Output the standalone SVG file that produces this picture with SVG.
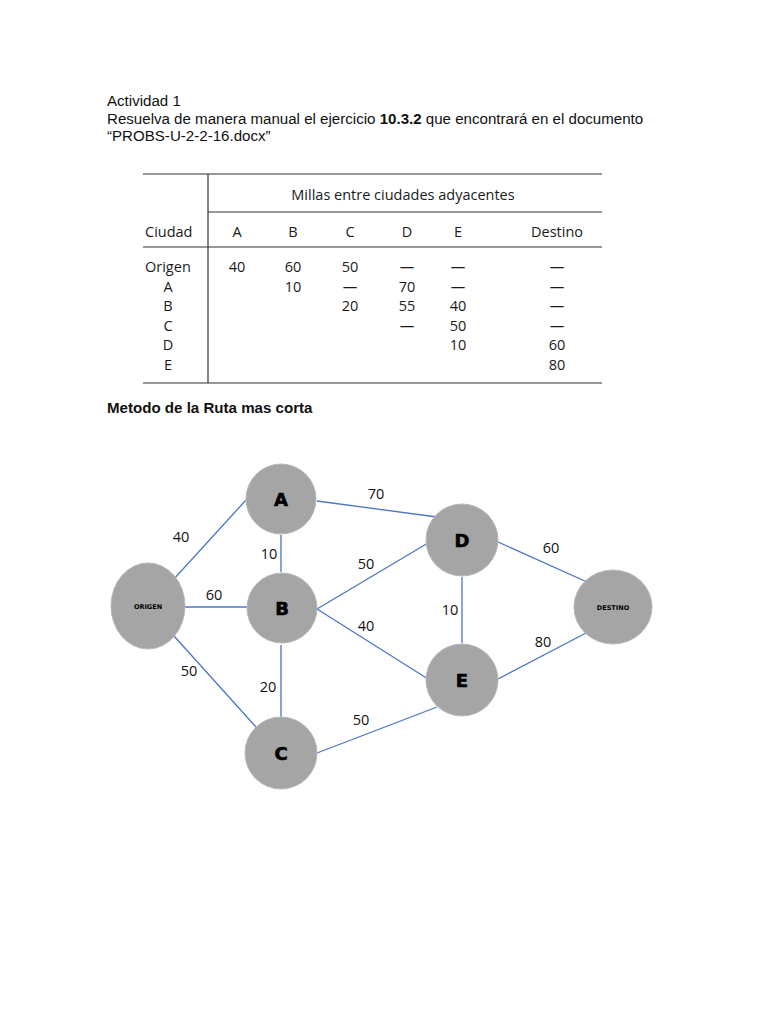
<svg xmlns="http://www.w3.org/2000/svg" width="768" height="1024" viewBox="0 0 768 1024">
<style>
.doc{font-family:"Liberation Sans",Arial,sans-serif;font-size:15.1px;fill:#111}
.tb{font-family:"Open Sans","Noto Sans",sans-serif;font-size:14.5px;fill:#1a1a1a}
.tm{text-anchor:middle}
.rule{stroke:#333;stroke-width:1.2}
.node{fill:#a5a5a5;stroke:#b8b8b8;stroke-width:1}
.nl{font-family:"DejaVu Sans",sans-serif;font-weight:900;font-size:18px;fill:#000;text-anchor:middle;stroke:#000;stroke-width:0.6}
.ns{font-family:"DejaVu Sans",sans-serif;font-weight:bold;font-size:6.5px;fill:#000;text-anchor:middle}
.edge{stroke:#4a76c6;stroke-width:1.3;fill:none}
.el{font-family:"Open Sans","Noto Sans",sans-serif;font-size:14.5px;fill:#111;text-anchor:middle}
</style>
<rect width="768" height="1024" fill="#fff"/>
<text class="doc" x="107" y="106">Actividad 1</text>
<text class="doc" x="107" y="124">Resuelva de manera manual el ejercicio <tspan font-weight="bold">10.3.2</tspan> que encontrará en el documento</text>
<text class="doc" x="107" y="141" fill="#444">“PROBS-U-2-2-16.docx”</text>

<g id="table">
<line class="rule" x1="143" y1="174" x2="602" y2="174" stroke-width="2.2"/>
<line class="rule" x1="208" y1="174" x2="208" y2="383" stroke-width="1"/>
<line class="rule" x1="208" y1="212" x2="602" y2="212"/>
<line class="rule" x1="143" y1="247" x2="602" y2="247"/>
<line class="rule" x1="143" y1="383" x2="602" y2="383" stroke-width="2.2"/>
<text class="tb tm" x="403" y="200">Millas entre ciudades adyacentes</text>
<text class="tb" x="145" y="237">Ciudad</text>
<text class="tb tm" x="237" y="237">A</text>
<text class="tb tm" x="293" y="237">B</text>
<text class="tb tm" x="350" y="237">C</text>
<text class="tb tm" x="407" y="237">D</text>
<text class="tb tm" x="458" y="237">E</text>
<text class="tb tm" x="557" y="237">Destino</text>
<text class="tb" x="145" y="272">Origen</text>
<text class="tb tm" x="168" y="292">A</text>
<text class="tb tm" x="168" y="311">B</text>
<text class="tb tm" x="168" y="331">C</text>
<text class="tb tm" x="168" y="350">D</text>
<text class="tb tm" x="168" y="370">E</text>
<text class="tb tm" x="237" y="272">40</text>
<text class="tb tm" x="293" y="272">60</text>
<text class="tb tm" x="350" y="272">50</text>
<text class="tb tm" x="407" y="272">—</text>
<text class="tb tm" x="458" y="272">—</text>
<text class="tb tm" x="557" y="272">—</text>
<text class="tb tm" x="293" y="292">10</text>
<text class="tb tm" x="350" y="292">—</text>
<text class="tb tm" x="407" y="292">70</text>
<text class="tb tm" x="458" y="292">—</text>
<text class="tb tm" x="557" y="292">—</text>
<text class="tb tm" x="350" y="311">20</text>
<text class="tb tm" x="407" y="311">55</text>
<text class="tb tm" x="458" y="311">40</text>
<text class="tb tm" x="557" y="311">—</text>
<text class="tb tm" x="407" y="331">—</text>
<text class="tb tm" x="458" y="331">50</text>
<text class="tb tm" x="557" y="331">—</text>
<text class="tb tm" x="458" y="350">10</text>
<text class="tb tm" x="557" y="350">60</text>
<text class="tb tm" x="557" y="370">80</text>
</g>

<text class="doc" x="107" y="413" font-weight="bold" font-size="14">Metodo de la Ruta mas corta</text>

<g id="connectors">
<line class="edge" x1="173" y1="580" x2="246" y2="500"/>
<line class="edge" x1="185" y1="607" x2="247" y2="607"/>
<line class="edge" x1="174" y1="636" x2="256" y2="727"/>
<line class="edge" x1="281" y1="535" x2="281" y2="572"/>
<line class="edge" x1="317" y1="501" x2="437" y2="517"/>
<line class="edge" x1="317" y1="609" x2="428" y2="543"/>
<line class="edge" x1="317" y1="609" x2="428" y2="679"/>
<line class="edge" x1="281" y1="645" x2="281" y2="717"/>
<line class="edge" x1="317" y1="753" x2="437" y2="707"/>
<line class="edge" x1="462" y1="577" x2="462" y2="643"/>
<line class="edge" x1="498" y1="542" x2="587" y2="582"/>
<line class="edge" x1="498" y1="679" x2="586" y2="633"/>
<text class="el" x="181" y="542">40</text>
<text class="el" x="269" y="559">10</text>
<text class="el" x="214" y="600">60</text>
<text class="el" x="376" y="499">70</text>
<text class="el" x="366" y="569">50</text>
<text class="el" x="366" y="631">40</text>
<text class="el" x="189" y="676">50</text>
<text class="el" x="268" y="692">20</text>
<text class="el" x="361" y="725">50</text>
<text class="el" x="551" y="553">60</text>
<text class="el" x="450" y="615">10</text>
<text class="el" x="543" y="647">80</text>
</g>

<g id="node-origen"><ellipse class="node" cx="148" cy="606" rx="37" ry="43"/><text class="ns" x="148" y="609">ORIGEN</text></g>
<g id="node-a"><circle class="node" cx="281" cy="499" r="35"/><text class="nl" x="281" y="505.5">A</text></g>
<g id="node-b"><circle class="node" cx="282" cy="608" r="35"/><text class="nl" x="282" y="614.5">B</text></g>
<g id="node-c"><circle class="node" cx="281" cy="753" r="36"/><text class="nl" x="281" y="759.5">C</text></g>
<g id="node-d"><circle class="node" cx="462" cy="540" r="36"/><text class="nl" x="462" y="546.5">D</text></g>
<g id="node-e"><circle class="node" cx="462" cy="680" r="36"/><text class="nl" x="462" y="686.5">E</text></g>
<g id="node-destino"><ellipse class="node" cx="613" cy="607" rx="39" ry="37"/><text class="ns" x="613" y="610">DESTINO</text></g>
</svg>
